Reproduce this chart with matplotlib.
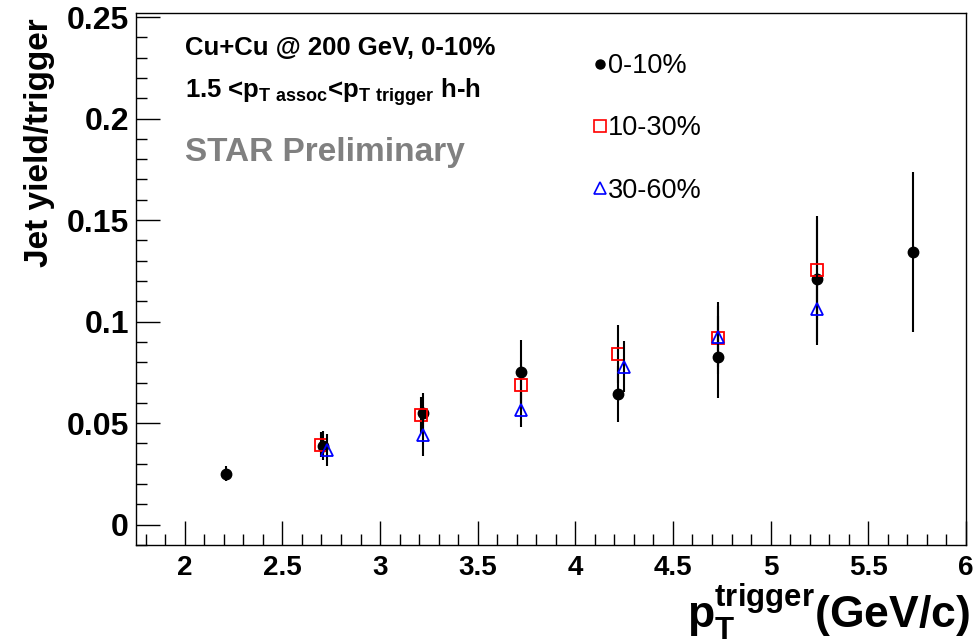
import numpy as np
import matplotlib
matplotlib.use('Agg')
import matplotlib.pyplot as plt
from matplotlib.lines import Line2D
from matplotlib.ticker import MultipleLocator

plt.rcParams['font.family'] = ['Liberation Sans', 'DejaVu Sans']
plt.rcParams['mathtext.fontset'] = 'custom'
plt.rcParams['mathtext.rm'] = 'Liberation Sans'
plt.rcParams['mathtext.bf'] = 'Liberation Sans:bold'

# jet yield per trigger vs trigger pT, three centrality classes
pt_0_10 = [2.21, 2.71, 3.22, 3.72, 4.22, 4.73, 5.24, 5.73]
y_0_10 = [0.0251, 0.0389, 0.0551, 0.0753, 0.0645, 0.0827, 0.1210, 0.1343]
e_0_10 = [0.0037, 0.0070, 0.0098, 0.0157, 0.0138, 0.0202, 0.0310, 0.0395]

pt_10_30 = [2.70, 3.21, 3.72, 4.22, 4.73, 5.24]
y_10_30 = [0.0394, 0.0541, 0.0689, 0.0842, 0.0920, 0.1255]
e_10_30 = [0.0060, 0.0090, 0.0120, 0.0143, 0.0177, 0.0246]

pt_30_60 = [2.73, 3.22, 3.72, 4.25, 4.73, 5.24]
y_30_60 = [0.0369, 0.0443, 0.0566, 0.0778, 0.0925, 0.1063]
e_30_60 = [0.0078, 0.0103, 0.0084, 0.0125, 0.0150, 0.0177]

labels = ['0-10%', '10-30%', '30-60%']

fig = plt.figure(figsize=(9.74, 6.41), dpi=100)
ax = fig.add_axes([0.1396, 0.1498, 0.852, 0.830])

ax.errorbar(pt_0_10, y_0_10, yerr=e_0_10, fmt='o', color='black', ms=7.5,
            ecolor='black', elinewidth=1.5, capsize=0, zorder=3)
ax.errorbar(pt_10_30, y_10_30, yerr=e_10_30, fmt='s', mfc='none', mec='red',
            mew=1.3, ms=9, ecolor='black', elinewidth=1.5, capsize=0, zorder=4)
ax.errorbar(pt_30_60, y_30_60, yerr=e_30_60, fmt='^', mfc='none', mec='blue',
            mew=1.3, ms=9, ecolor='black', elinewidth=1.5, capsize=0, zorder=5)

ax.set_xlim(1.75, 6.0)
ax.set_ylim(-0.01, 0.252)
ax.xaxis.set_minor_locator(MultipleLocator(0.1))
ax.yaxis.set_minor_locator(MultipleLocator(0.01))
ax.set_xticks([2, 2.5, 3, 3.5, 4, 4.5, 5, 5.5, 6])
ax.set_xticklabels(['2', '2.5', '3', '3.5', '4', '4.5', '5', '5.5', '6'],
                   fontsize=20, fontweight='bold')
ax.set_yticks([0, 0.05, 0.1, 0.15, 0.2, 0.25])
ax.set_yticklabels(['0', '0.05', '0.1', '0.15', '0.2', '0.25'],
                   fontsize=23, fontweight='bold')
ax.tick_params(which='both', direction='in', top=False, right=False, width=1)
ax.tick_params(which='major', length=17)
ax.tick_params(which='minor', length=8)
ax.tick_params(axis='y', pad=5)
ax.tick_params(axis='x', pad=7)
for sp in ax.spines.values():
    sp.set_linewidth(1)

ax.set_ylabel('Jet yield/trigger', fontsize=24, fontweight='bold')
ax.yaxis.set_label_coords(-0.098, 0.757)
fig.text(0.996, -0.003, r'$\mathbf{p}_{\mathbf{T}}^{\mathbf{trigger}}$(GeV/c)',
         ha='right', va='bottom', fontsize=32, fontweight='bold')

fig.text(185 / 974, 1 - 48 / 641, 'Cu+Cu @ 200 GeV, 0-10%', fontsize=18.5,
         fontweight='bold', va='center')
fig.text(185 / 974, 1 - 92 / 641,
         r'1.5 <$\mathbf{p}_{\mathbf{T\ assoc}}$<$\mathbf{p}_{\mathbf{T\ trigger}}$ h-h',
         fontsize=18.5, fontweight='bold', va='center')
fig.text(185 / 974, 1 - 152 / 641, 'STAR Preliminary', fontsize=24,
         fontweight='bold', color='#808080', va='center')

handles = [
    Line2D([], [], ls='none', marker='o', color='black', ms=6.5),
    Line2D([], [], ls='none', marker='s', mfc='none', mec='red', mew=1.2, ms=8),
    Line2D([], [], ls='none', marker='^', mfc='none', mec='blue', mew=1.2, ms=8),
]
ax.legend(handles, labels, loc='upper left', bbox_to_anchor=(0.536, 0.945),
          frameon=False, fontsize=19.5, handlelength=0.6, handletextpad=0.0,
          labelspacing=1.34, borderaxespad=0)

fig.savefig('out.png', dpi=100)
